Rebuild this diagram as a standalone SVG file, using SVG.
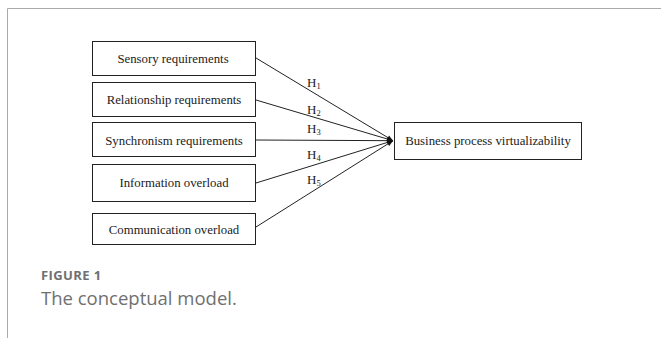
<svg xmlns="http://www.w3.org/2000/svg" width="661" height="338" viewBox="0 0 661 338">
<style>
.box{fill:#fff;stroke:#222;stroke-width:1}
.t{font-family:"Liberation Serif",serif;font-size:12.8px;fill:#222;text-anchor:middle}
.h{font-family:"Liberation Serif",serif;font-size:13px;fill:#222}
.sub{font-size:8.5px}
.c{stroke:#222;stroke-width:1;fill:none;marker-end:url(#ah)}
</style>
<defs>
<marker id="ah" viewBox="0 0 10 10" refX="10" refY="5" markerWidth="7" markerHeight="6" markerUnits="userSpaceOnUse" orient="auto">
<path d="M0,1 L10,5 L0,9 Z" fill="#111"/>
</marker>
</defs>
<rect x="0" y="0" width="661" height="338" fill="#fff"/>
<path d="M7.5,338 V8.5 H661" fill="none" stroke="#aaa" stroke-width="1"/>
<g id="connectors">
<line class="c" x1="256" y1="58" x2="393" y2="140.7"/>
<line class="c" x1="256" y1="100" x2="393" y2="140.7"/>
<line class="c" x1="256" y1="140" x2="393" y2="140.7"/>
<line class="c" x1="256" y1="183" x2="393" y2="140.7"/>
<line class="c" x1="256" y1="227" x2="393" y2="140.7"/>
</g>
<g id="labels">
<text class="h" x="307" y="87">H<tspan class="sub" dy="2">1</tspan></text>
<text class="h" x="307" y="114">H<tspan class="sub" dy="2">2</tspan></text>
<text class="h" x="307" y="133">H<tspan class="sub" dy="2">3</tspan></text>
<text class="h" x="307" y="159">H<tspan class="sub" dy="2">4</tspan></text>
<text class="h" x="307" y="184">H<tspan class="sub" dy="2">5</tspan></text>
</g>
<g id="n1"><rect class="box" x="92.5" y="41.5" width="163" height="34"/><text class="t" x="173" y="62.5">Sensory requirements</text></g>
<g id="n2"><rect class="box" x="92.5" y="82.5" width="163" height="34"/><text class="t" x="174" y="104">Relationship requirements</text></g>
<g id="n3"><rect class="box" x="92.5" y="122.5" width="163" height="34"/><text class="t" x="174" y="144.5">Synchronism requirements</text></g>
<g id="n4"><rect class="box" x="92.5" y="164.5" width="163" height="37"/><text class="t" x="174" y="187">Information overload</text></g>
<g id="n5"><rect class="box" x="92.5" y="213.5" width="163" height="31"/><text class="t" x="174" y="234">Communication overload</text></g>
<g id="n6"><rect class="box" x="394.5" y="122.5" width="187" height="37"/><text class="t" x="488" y="145">Business process virtualizability</text></g>
<text x="41" y="279.5" font-family="'Open Sans',sans-serif" font-size="13" font-weight="bold" letter-spacing="0.4" fill="#707070">FIGURE 1</text>
<text x="41" y="305" font-family="'Open Sans',sans-serif" font-size="18.5" fill="#707070">The conceptual model.</text>
</svg>
